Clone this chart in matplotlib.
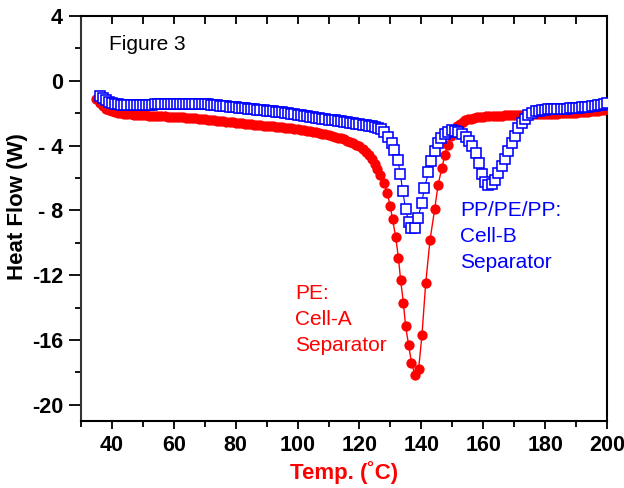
import matplotlib
matplotlib.use("Agg")
import matplotlib.pyplot as plt
from matplotlib.ticker import FixedLocator, MultipleLocator

plt.rcParams['font.family'] = ['Liberation Sans', 'DejaVu Sans']

# ---- data ----
# red: PE separator (Cell-A)
red_temp = list(range(35, 126)) + [
    125.8, 126.6, 127.9, 129.0, 129.9, 130.7, 131.7, 132.6, 133.3, 134.2,
    134.9, 135.9, 136.8, 137.9, 139.1, 140.2, 141.4, 142.8, 144.3, 145.4,
    146.6, 147.6, 148.6, 149.7, 150.6, 151.5, 152.4, 153.3, 154.2, 155.1,
    156.0, 157.0, 158.0] + list(range(159, 201))
red_flow = [
    -1.10, -1.38, -1.58, -1.72, -1.82, -1.89, -1.94, -1.98, -2.01, -2.04,   # 35-44
    -2.06, -2.08, -2.10, -2.11, -2.12, -2.13, -2.14, -2.15, -2.16, -2.17,   # 45-54
    -2.18, -2.19, -2.20, -2.21, -2.22, -2.23, -2.24, -2.25, -2.26, -2.27,   # 55-64
    -2.28, -2.30, -2.32, -2.34, -2.36, -2.38, -2.40, -2.42, -2.44, -2.46,   # 65-74
    -2.48, -2.50, -2.52, -2.54, -2.56, -2.58, -2.60, -2.62, -2.64, -2.66,   # 75-84
    -2.68, -2.70, -2.72, -2.74, -2.76, -2.78, -2.80, -2.82, -2.84, -2.86,   # 85-94
    -2.88, -2.90, -2.92, -2.94, -2.96, -2.98, -3.01, -3.04, -3.07, -3.10,   # 95-104
    -3.14, -3.18, -3.22, -3.26, -3.31, -3.36, -3.41, -3.46, -3.51, -3.56,   # 105-114
    -3.62, -3.69, -3.76, -3.84, -3.94, -4.05, -4.20, -4.38, -4.60, -4.85,   # 115-124
    -5.12,                                                                  # 125
    -5.45, -5.81, -6.33, -6.94, -7.70, -8.56, -9.64, -10.94, -12.30, -13.72,
    -15.14, -16.31, -17.39, -18.13, -17.82, -15.69, -12.50, -9.83, -7.93, -6.43,
    -5.40, -4.58, -3.96, -3.40, -3.02, -2.80, -2.64, -2.52, -2.44, -2.38,
    -2.33, -2.29, -2.26,
    -2.24, -2.22, -2.20, -2.19, -2.18, -2.17, -2.16, -2.15, -2.14, -2.13,   # 159-168
    -2.12, -2.11, -2.11, -2.10, -2.09, -2.09, -2.08, -2.07, -2.07, -2.06,   # 169-178
    -2.05, -2.05, -2.04, -2.03, -2.02, -2.02, -2.01, -2.00, -1.99, -1.98,   # 179-188
    -1.97, -1.96, -1.95, -1.93, -1.92, -1.90, -1.88, -1.86, -1.84, -1.81,   # 189-198
    -1.78, -1.75]                                                           # 199-200

# blue: PP/PE/PP separator (Cell-B)
blue_temp = list(range(36, 129)) + [
    129.3, 130.4, 131.3, 132.4, 133.2, 134.0, 134.9, 135.9, 136.8, 137.8,
    138.9, 140.1, 141.0, 142.3, 143.2, 144.3, 145.3, 146.4, 147.5, 148.6,
    149.8, 150.9, 152.0, 153.1, 154.3, 155.4, 156.5, 157.7, 158.7, 159.7,
    160.7, 161.7, 162.7, 163.8, 164.9, 166.0, 167.0, 168.1, 169.2, 170.3,
    171.3, 172.4, 173.5, 174.6, 175.8] + list(range(177, 201))
blue_flow = [
    -0.95, -1.08, -1.20, -1.30, -1.38, -1.43, -1.46, -1.48, -1.49, -1.50,   # 36-45
    -1.50, -1.50, -1.49, -1.49, -1.48, -1.48, -1.47, -1.47, -1.46, -1.46,   # 46-55
    -1.45, -1.45, -1.44, -1.44, -1.43, -1.43, -1.42, -1.42, -1.42, -1.42,   # 56-65
    -1.42, -1.43, -1.43, -1.44, -1.45, -1.46, -1.48, -1.50, -1.52, -1.54,   # 66-75
    -1.56, -1.58, -1.60, -1.62, -1.64, -1.66, -1.68, -1.70, -1.72, -1.74,   # 76-85
    -1.76, -1.78, -1.80, -1.82, -1.84, -1.86, -1.88, -1.90, -1.92, -1.94,   # 86-95
    -1.97, -2.00, -2.03, -2.06, -2.09, -2.12, -2.15, -2.18, -2.21, -2.24,   # 96-105
    -2.27, -2.30, -2.33, -2.36, -2.39, -2.42, -2.45, -2.48, -2.51, -2.54,   # 106-115
    -2.57, -2.60, -2.63, -2.66, -2.69, -2.72, -2.75, -2.78, -2.82, -2.86,   # 116-125
    -2.92, -3.00, -3.15,                                                    # 126-128
    -3.45, -3.81, -4.27, -4.89, -5.75, -6.83, -7.91, -8.70, -9.06, -9.06,
    -8.46, -7.56, -6.62, -5.66, -4.95, -4.33, -3.87, -3.53, -3.31, -3.13,
    -3.01, -3.07, -3.16, -3.28, -3.47, -3.72, -4.02, -4.46, -5.07, -5.75,
    -6.22, -6.43, -6.37, -6.12, -5.69, -5.26, -4.80, -4.36, -3.87, -3.38,
    -2.94, -2.60, -2.33, -2.11, -1.96,
    -1.88, -1.84, -1.81, -1.79, -1.77, -1.76, -1.75, -1.74, -1.73, -1.72,   # 177-186
    -1.71, -1.70, -1.69, -1.67, -1.66, -1.64, -1.62, -1.60, -1.57, -1.55,   # 187-196
    -1.52, -1.49, -1.45, -1.40]                                             # 197-200

x_ticks = [40, 60, 80, 100, 120, 140, 160, 180, 200]
y_ticks = [4, 0, -4, -8, -12, -16, -20]
y_tick_labels = ['4', '0', '- 4', '- 8', '-12', '-16', '-20']

RED = '#ff0000'
BLUE = '#0000ff'

fig = plt.figure(figsize=(6.24, 4.88), dpi=100)
ax = fig.add_axes([81 / 624, 1 - 421 / 488, 526 / 624, 405 / 488])

ax.plot(red_temp, red_flow, color=RED, lw=1.0, marker='o', ms=7.4,
        mec=RED, mfc=RED, mew=0, zorder=3)
ax.plot(blue_temp, blue_flow, color=BLUE, lw=0.8, marker='s', ms=7.0,
        mec=BLUE, mfc='white', mew=1.15, zorder=4)

ax.set_xlim(30, 200)
ax.set_ylim(-21, 4)

ax.xaxis.set_major_locator(FixedLocator(x_ticks))
ax.xaxis.set_minor_locator(MultipleLocator(10))
ax.yaxis.set_major_locator(FixedLocator(y_ticks))
ax.set_yticklabels(y_tick_labels)
ax.yaxis.set_minor_locator(MultipleLocator(2))

ax.tick_params(axis='x', which='major', direction='out', length=6, width=1.3,
               top=True, labelsize=15.5, pad=4)
ax.tick_params(axis='x', which='minor', direction='out', length=4, width=1.3, top=True)
ax.tick_params(axis='y', which='major', direction='out', length=9, width=1.3,
               labelsize=15.5, pad=4)
ax.tick_params(axis='y', which='minor', direction='out', length=4, width=1.3)
for lab in ax.get_xticklabels() + ax.get_yticklabels():
    lab.set_fontweight('bold')

# top ticks point into the plot
for t in ax.xaxis.get_major_ticks() + ax.xaxis.get_minor_ticks():
    t.tick2line.set_marker(3)
    t.tick2line.set_markersize(6)

for side in ['left', 'right', 'top', 'bottom']:
    ax.spines[side].set_linewidth(1.5)
ax.spines['left'].set_color('#333333')

fig.text(344 / 624, 1 - 473 / 488, 'Temp. (˚C)', color=RED, fontsize=16,
         fontweight='bold', ha='center', va='center')
fig.text(18 / 624, 1 - 207 / 488, 'Heat Flow (W)', color='black', fontsize=16,
         fontweight='bold', ha='center', va='center', rotation=90)

ax.text(39.1, 2.83, 'Figure 3', fontsize=15, va='top', ha='left')
ax.text(99.2, -12.55, 'PE:\nCell-A\nSeparator', color=RED, fontsize=15,
        va='top', ha='left', linespacing=1.45)
ax.text(152.5, -7.42, 'PP/PE/PP:\nCell-B\nSeparator', color=BLUE, fontsize=15,
        va='top', ha='left', linespacing=1.45)

fig.savefig('out.png', dpi=100)
